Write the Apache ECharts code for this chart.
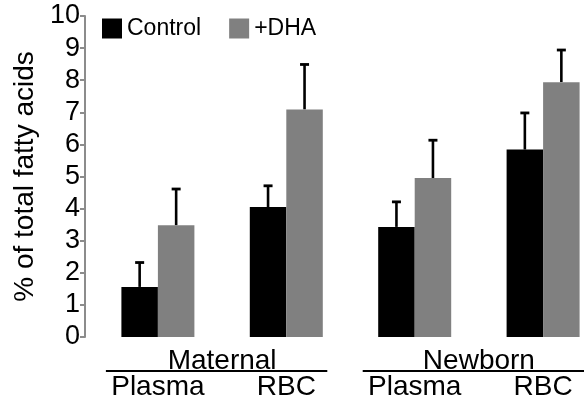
<!DOCTYPE html>
<html>
<head>
<meta charset="utf-8">
<script src="https://cdn.jsdelivr.net/npm/echarts@6/dist/echarts.min.js"></script>
<style>html,body{margin:0;padding:0;background:#fff}#c{width:584px;height:397px}</style>
</head>
<body>
<div id="c"></div>
<script>
var tissues = ['Plasma', 'RBC', 'Plasma', 'RBC'];
var groups = ['Maternal', 'Newborn'];
var controlMean = [1.56, 4.05, 3.43, 5.84];
var controlErr = [0.76, 0.66, 0.78, 1.14];
var dhaMean = [3.48, 7.09, 4.95, 7.94];
var dhaErr = [1.13, 1.40, 1.18, 1.00];
var yTicks = [0, 1, 2, 3, 4, 5, 6, 7, 8, 9, 10];

var FONT = 'Liberation Sans, Arial, sans-serif';
var BW = 36.5;

function errSeries(means, errs, dir) {
  return {
    type: 'custom',
    xAxisIndex: 0,
    z: 1,
    data: means.map(function (m, i) { return [i, m, m + errs[i]]; }),
    renderItem: function (params, api) {
      var base = api.coord([api.value(0), api.value(1)]);
      var top = api.coord([api.value(0), api.value(2)]);
      var x = base[0] + dir * BW / 2;
      return {
        type: 'group',
        children: [
          { type: 'line', shape: { x1: x, y1: base[1], x2: x, y2: top[1] }, style: { stroke: '#000', lineWidth: 2.6 } },
          { type: 'line', shape: { x1: x - 4.5, y1: top[1], x2: x + 4.5, y2: top[1] }, style: { stroke: '#000', lineWidth: 2.8 } }
        ]
      };
    }
  };
}

var chart = echarts.init(document.getElementById('c'), null, { renderer: 'canvas' });
chart.setOption({
  animation: false,
  textStyle: { fontFamily: FONT },
  legend: {
    data: ['Control', '+DHA'],
    left: 102, top: 17, padding: 0,
    itemWidth: 20, itemHeight: 20, itemGap: 28,
    icon: 'rect',
    textStyle: { fontSize: 23, color: '#000', fontFamily: FONT }
  },
  grid: { left: 93.7, width: 513.6, top: 16, bottom: 60, containLabel: false, outerBoundsMode: 'none' },
  xAxis: [
    {
      type: 'category', data: tissues, position: 'bottom',
      axisLine: { show: false }, axisTick: { show: false },
      axisLabel: { margin: 36, fontSize: 28, color: '#000', fontFamily: FONT }
    },
    {
      type: 'category', data: groups, position: 'bottom',
      axisLine: { show: false }, axisTick: { show: false },
      axisLabel: { margin: 10, fontSize: 28, color: '#000', fontFamily: FONT }
    }
  ],
  yAxis: {
    type: 'value', min: 0, max: 10, interval: 1, offset: 8.7,
    name: '% of total fatty acids', nameLocation: 'middle', nameRotate: 90, nameGap: 43,
    nameTextStyle: { fontSize: 28, color: '#000', fontFamily: FONT },
    axisLine: { show: true, lineStyle: { color: '#8c8c8c', width: 2 } },
    axisTick: { show: true, inside: false, length: 5, lineStyle: { color: '#8c8c8c', width: 2 } },
    axisLabel: { margin: 5, fontSize: 27, color: '#000', fontFamily: FONT,
      formatter: function (v) { return yTicks.indexOf(v) >= 0 ? String(v) : ''; } },
    splitLine: { show: false }
  },
  series: [
    { name: 'Control', type: 'bar', data: controlMean, barWidth: BW, barGap: '0%', itemStyle: { color: '#000' }, z: 2 },
    { name: '+DHA', type: 'bar', data: dhaMean, barWidth: BW, barGap: '0%', itemStyle: { color: '#808080' }, z: 2 },
    errSeries(controlMean, controlErr, -1),
    errSeries(dhaMean, dhaErr, 1)
  ]
});

// group underline rules, placed from the category axis positions
var lines = [];
for (var g = 0; g < groups.length; g++) {
  var xa = chart.convertToPixel({ xAxisIndex: 0 }, 2 * g);
  var xb = chart.convertToPixel({ xAxisIndex: 0 }, 2 * g + 1);
  var y = chart.convertToPixel({ yAxisIndex: 0 }, 0) + 34;
  lines.push({ type: 'line', shape: { x1: xa - 52, y1: y, x2: xb + 41, y2: y }, style: { stroke: '#000', lineWidth: 2 } });
}
chart.setOption({ graphic: lines });
</script>
</body>
</html>
